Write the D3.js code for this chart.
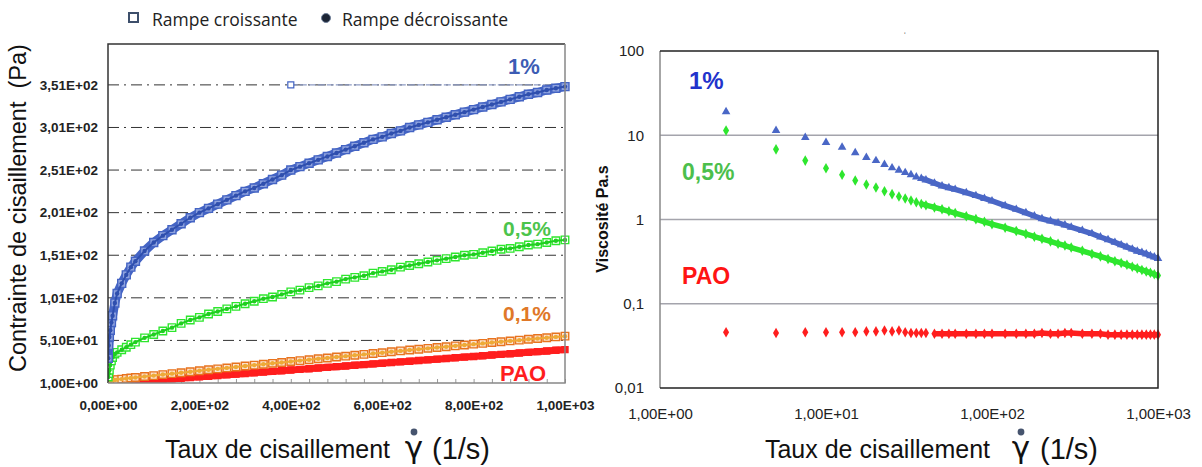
<!DOCTYPE html>
<html>
<head>
<meta charset="utf-8">
<script src="https://cdn.jsdelivr.net/npm/d3@7"></script>
<style>
  body { margin: 0; background: #fff; }
  svg { display: block; }
  .tickL text { font-family: "Liberation Sans Narrow", "Arial Narrow", sans-serif; font-weight: bold; font-size: 13.5px; fill: #222; }
  .tickR text { font-family: "Liberation Sans", Arial, sans-serif; font-size: 15px; fill: #222; }
  .title { font-family: "Liberation Sans", Arial, sans-serif; fill: #111; }
  .note { font-family: "Liberation Sans", Arial, sans-serif; font-weight: bold; }
</style>
</head>
<body>
<script>
// ---- left panel: shear stress vs shear rate (linear) ----
const rateL = [0.5, 1.5, 3, 5, 7.5, 10, 15, 20, 30, 40, 50, 60, 80,
  100, 120, 140, 160, 180, 200, 220, 240, 260, 280, 300, 320, 340, 360, 380, 400,
  420, 440, 460, 480, 500, 520, 540, 560, 580, 600, 620, 640, 660, 680, 700,
  720, 740, 760, 780, 800, 820, 840, 860, 880, 900, 920, 940, 960, 980, 1000];

const stress1 = [30, 45, 55, 63, 72, 80, 95, 106, 118, 128, 137, 144, 156,
  166, 174, 181, 188, 195, 201, 206, 211, 216, 221, 226, 230, 235, 240, 245, 251,
  255, 259, 263, 267, 271, 275, 279, 283, 287, 290, 294, 297, 301, 304, 307,
  310, 313, 316, 319, 322, 325, 328, 331, 334, 337, 340, 342, 345, 347, 349];

const stress05 = [8, 12, 16, 22, 27, 31, 35, 37, 40, 43, 46, 49, 54,
  58, 62, 66, 71, 75, 78, 82, 85, 88, 91, 94, 97, 100, 102, 105, 108,
  110, 113, 115, 118, 120, 123, 125, 127, 130, 132, 134, 137, 139, 141, 143,
  145, 147, 149, 151, 152, 154, 156, 158, 159, 161, 163, 164, 166, 168, 169];

const stress01 = [3, 3.2, 3.4, 3.6, 3.9, 4.2, 4.6, 5, 5.6, 6.3, 6.9, 7.5, 8.6,
  9.7, 10.9, 12, 13.1, 14.2, 15.4, 16.5, 17.6, 18.7, 19.8, 20.9, 22, 23, 24.1, 25.1, 26.2,
  27.3, 28.3, 29.4, 30.4, 31.5, 32.5, 33.6, 34.6, 35.6, 36.6, 37.7, 38.7, 39.7, 40.7, 41.7,
  42.6, 43.6, 44.6, 45.6, 46.6, 47.5, 48.5, 49.4, 50.4, 51.3, 52.3, 53.2, 54.1, 55.1, 56];

const stressPAO = [0.2, 0.25, 0.3, 0.4, 0.5, 0.6, 0.8, 1, 1.4, 1.8, 2.2, 2.6, 3.4,
  4.2, 5, 5.8, 6.6, 7.4, 8.2, 9, 9.8, 10.6, 11.4, 12.2, 13, 13.8, 14.6, 15.4, 16.2,
  17, 17.8, 18.6, 19.4, 20.2, 21, 21.8, 22.6, 23.4, 24.2, 25, 25.8, 26.6, 27.4, 28.2,
  29, 29.8, 30.6, 31.4, 32.2, 33, 33.8, 34.6, 35.4, 36.2, 37, 37.8, 38.6, 39.4, 40.2];

// stray point of the 1% ramp sitting on the top gridline
const outlierRate = [400, 1000];
const outlierStress = [351, 351];

const ticksXL = [0, 200, 400, 600, 800, 1000];
const ticksYL = [1, 51, 101, 151, 201, 251, 301, 351];

// ---- right panel: viscosity vs shear rate (log-log) ----
const rateR = [2.5, 5, 7.5, 10, 12.5, 15, 17.5, 20, 22.5, 25, 27.5, 30, 32.5, 35, 37.5, 40,
  45, 50, 55, 60, 70, 80, 90, 100, 120, 140, 160, 180, 200, 225, 250, 275, 300,
  350, 400, 450, 500, 550, 600, 650, 700, 750, 800, 850, 900, 950, 1000];

const visc1 = [19, 11.4, 9.4, 8.2, 7.2, 6.2, 5.45, 5.0, 4.5, 4.1, 3.85, 3.6, 3.4, 3.2, 3.07, 2.95,
  2.7, 2.5, 2.38, 2.28, 2.08, 1.92, 1.78, 1.66, 1.46, 1.32, 1.2, 1.1, 1.02, 0.96, 0.91, 0.86, 0.81,
  0.74, 0.68, 0.62, 0.575, 0.535, 0.5, 0.47, 0.445, 0.42, 0.405, 0.39, 0.372, 0.358, 0.345];

const visc05 = [11.4, 6.8, 5.0, 4.07, 3.4, 2.9, 2.6, 2.4, 2.17, 2.0, 1.88, 1.78, 1.68, 1.6, 1.53, 1.48,
  1.39, 1.32, 1.25, 1.19, 1.09, 1.01, 0.94, 0.88, 0.8, 0.73, 0.675, 0.625, 0.59, 0.55, 0.515, 0.49, 0.465,
  0.425, 0.39, 0.365, 0.34, 0.32, 0.305, 0.29, 0.275, 0.263, 0.252, 0.242, 0.233, 0.224, 0.216];

const viscPAO = [0.046, 0.045, 0.046, 0.046, 0.046, 0.046, 0.047, 0.047, 0.048, 0.047, 0.048, 0.046, 0.045, 0.045, 0.045, 0.045,
  0.044, 0.044, 0.044, 0.044, 0.044, 0.044, 0.044, 0.044, 0.044, 0.044, 0.044, 0.044, 0.045, 0.044, 0.044, 0.045, 0.045,
  0.044, 0.044, 0.044, 0.043, 0.043, 0.043, 0.043, 0.043, 0.043, 0.043, 0.043, 0.043, 0.043, 0.043];

const ticksXR = [1, 10, 100, 1000];
const ticksYR = [0.01, 0.1, 1, 10, 100];
const gridYR = [0.1, 1, 10];

const legendLabels = ['Rampe croissante', 'Rampe décroissante'];

const col = {
  blue: '#4464c4', blueDark: '#2f4fae',
  green: '#2ee62e', greenDark: '#1fcf1f',
  orange: '#e8731e', gold: '#eeaa38',
  red: '#ff1e1e'
};

// "2.00e+2" -> "2,00E+02"
const sci = (d) => {
  return d.toExponential(2).replace('.', ',').replace(/e([+-])(\d)$/, 'E$10$2');
};

const svg = d3.select('body').append('svg')
    .attr('width', 1202)
    .attr('height', 467);

// ================= LEFT =================
const xL = d3.scaleLinear().domain([0, 1000]).range([108, 565]);
const yL = d3.scaleLinear().domain([1, 399]).range([383, 44]);

svg.append('clipPath').attr('id', 'clipL')
  .append('rect')
    .attr('x', xL(0)).attr('y', yL(399))
    .attr('width', xL(1000) - xL(0) + 5).attr('height', yL(1) - yL(399));

// dash-dot gridlines
svg.append('g')
  .selectAll('line')
    .data(ticksYL.slice(1))
  .enter().append('line')
    .attr('x1', xL(0)).attr('x2', xL(1000))
    .attr('y1', (d) => yL(d)).attr('y2', (d) => yL(d))
    .attr('stroke', '#333')
    .attr('stroke-width', 1)
    .attr('stroke-dasharray', '11,5,2,5');

// bottom axis labels + minor ticks
svg.append('g')
    .attr('class', 'tickL')
    .attr('transform', `translate(0,${ yL(1) })`)
    .call(d3.axisBottom(xL).tickValues(ticksXL).tickSize(0).tickPadding(17).tickFormat(sci))
    .call((g) => g.select('.domain').remove());

svg.append('g')
    .attr('transform', `translate(0,${ yL(1) })`)
    .call(d3.axisTop(xL).tickValues(d3.range(0, 1001, 40)).tickSize(4).tickFormat(''))
    .call((g) => g.select('.domain').remove())
    .call((g) => g.selectAll('line').attr('stroke', '#999'));

svg.append('g')
    .attr('class', 'tickL')
    .attr('transform', `translate(${ xL(0) },0)`)
    .call(d3.axisLeft(yL).tickValues(ticksYL).tickSize(0).tickPadding(10).tickFormat(sci))
    .call((g) => g.select('.domain').remove());

const plotL = svg.append('g').attr('clip-path', 'url(#clipL)');

const ptsL = (vals) => rateL.map((r, i) => [r, vals[i]]);
const lineL = d3.line()
    .x((d) => xL(d[0]))
    .y((d) => yL(d[1]));

// faint link from the stray point to the end of the 1% ramp
plotL.append('path')
    .datum(outlierRate.map((r, i) => [r, outlierStress[i]]))
    .attr('d', lineL)
    .attr('fill', 'none')
    .attr('stroke', '#8d9bc4')
    .attr('stroke-width', 1.2)
    .attr('stroke-dasharray', '7,2');

const seriesL = [
  {vals: stressPAO, c: col.red, dec: col.red, band: 7, fill: col.red, size: 36},
  {vals: stress01, c: col.orange, dec: col.gold, band: 0, fill: '#fbe3cf', size: 56},
  {vals: stress05, c: col.green, dec: col.greenDark, band: 0, fill: '#fff', size: 56},
  {vals: stress1, c: col.blue, dec: col.blueDark, band: 9, fill: '#8ea2de', size: 64}
];

seriesL.forEach((s) => {
  const pts = ptsL(s.vals);
  if (s.band) {
    plotL.append('path')
        .datum(pts)
        .attr('d', lineL)
        .attr('fill', 'none')
        .attr('stroke', s.c)
        .attr('stroke-width', s.band);
  }
  // rampe croissante: squares
  plotL.append('g')
    .selectAll('path')
      .data(pts)
    .enter().append('path')
      .attr('transform', (d) => `translate(${ xL(d[0]) },${ yL(d[1]) })`)
      .attr('d', d3.symbol(d3.symbolSquare, s.size))
      .attr('fill', s.fill)
      .attr('stroke', s.c)
      .attr('stroke-width', 1.4);
  // rampe décroissante: small dots
  plotL.append('path')
      .datum(pts)
      .attr('d', lineL)
      .attr('fill', 'none')
      .attr('stroke', s.dec)
      .attr('stroke-width', 2);
  plotL.append('g')
    .selectAll('circle')
      .data(pts)
    .enter().append('circle')
      .attr('cx', (d) => xL(d[0]))
      .attr('cy', (d) => yL(d[1]))
      .attr('r', 2.2)
      .attr('fill', s.dec);
});

plotL.append('g')
  .selectAll('path')
    .data(outlierRate.slice(0, 1).map((r, i) => [r, outlierStress[i]]))
  .enter().append('path')
    .attr('transform', (d) => `translate(${ xL(d[0]) },${ yL(d[1]) })`)
    .attr('d', d3.symbol(d3.symbolSquare, 36))
    .attr('fill', '#fff')
    .attr('stroke', col.blue)
    .attr('stroke-width', 1.2);

// frame
svg.append('path')
    .attr('d', `M${ xL(0) },${ yL(1) }V${ yL(399) }H${ xL(1000) }`)
    .attr('fill', 'none').attr('stroke', '#333').attr('stroke-width', 1.5);
svg.append('path')
    .attr('d', `M${ xL(1000) },${ yL(399) }V${ yL(1) }H${ xL(0) }`)
    .attr('fill', 'none').attr('stroke', '#888').attr('stroke-width', 1.5);

// ================= RIGHT =================
const xR = d3.scaleLog().domain([1, 1000]).range([660, 1158]);
const yR = d3.scaleLog().domain([0.01, 100]).range([388, 51]);

svg.append('g')
  .selectAll('line')
    .data(gridYR)
  .enter().append('line')
    .attr('x1', xR(1)).attr('x2', xR(1000))
    .attr('y1', (d) => yR(d)).attr('y2', (d) => yR(d))
    .attr('stroke', '#a4a4ac')
    .attr('stroke-width', 1.5);

svg.append('g')
    .attr('class', 'tickR')
    .attr('transform', `translate(0,${ yR(0.01) })`)
    .call(d3.axisBottom(xR).tickValues(ticksXR).tickSize(0).tickPadding(20).tickFormat(sci))
    .call((g) => g.select('.domain').remove());

svg.append('g')
    .attr('class', 'tickR')
    .attr('transform', `translate(${ xR(1) },0)`)
    .call(d3.axisLeft(yR).tickValues(ticksYR).tickSize(0).tickPadding(16)
      .tickFormat((d) => String(d).replace('.', ',')))
    .call((g) => g.select('.domain').remove());

const ptsR = (vals) => rateR.map((r, i) => [r, vals[i]]);
const lineR = d3.line()
    .x((d) => xR(d[0]))
    .y((d) => yR(d[1]));

const seriesR = [
  {vals: viscPAO, c: col.red, sym: d3.symbolDiamond, size: 32, from: 16},
  {vals: visc05, c: col.green, sym: d3.symbolDiamond, size: 32, from: 14},
  {vals: visc1, c: '#4a67c6', sym: d3.symbolTriangle, size: 32, from: 14}
];

seriesR.forEach((s) => {
  const pts = ptsR(s.vals);
  // dense part of the ramp merges into a band
  svg.append('path')
      .datum(pts.slice(s.from))
      .attr('d', lineR)
      .attr('fill', 'none')
      .attr('stroke', s.c)
      .attr('stroke-width', 5.5);
  svg.append('g')
    .selectAll('path')
      .data(pts)
    .enter().append('path')
      .attr('transform', (d) => `translate(${ xR(d[0]) },${ yR(d[1]) })`)
      .attr('d', d3.symbol(s.sym, s.size))
      .attr('fill', s.c);
});

svg.append('path')
    .attr('d', `M${ xR(1) },${ yR(0.01) }V${ yR(100) }`)
    .attr('fill', 'none').attr('stroke', '#888').attr('stroke-width', 1.5);
svg.append('path')
    .attr('d', `M${ xR(1) },${ yR(100) }H${ xR(1000) }V${ yR(0.01) }H${ xR(1) }`)
    .attr('fill', 'none').attr('stroke', '#222').attr('stroke-width', 1.5);

// ================= TEXT =================
// legend
const legend = svg.append('g')
    .attr('font-family', '"Open Sans", sans-serif')
    .attr('font-size', 17.5)
    .attr('fill', '#222');
legend.append('rect')
    .attr('x', 129).attr('y', 13).attr('width', 9).attr('height', 9)
    .attr('fill', '#fff').attr('stroke', '#3d4f6b').attr('stroke-width', 2);
legend.append('text').attr('x', 152).attr('y', 26).text(legendLabels[0]);
legend.append('circle')
    .attr('cx', 326).attr('cy', 18).attr('r', 4.5)
    .attr('fill', '#1c2535').attr('stroke', '#6f7f99').attr('stroke-width', 1);
legend.append('text').attr('x', 342).attr('y', 26).text(legendLabels[1]);

// axis titles
const xTitle = (textEnd, gx, parenX) => {
  svg.append('text')
      .attr('class', 'title')
      .attr('x', textEnd).attr('y', 458)
      .attr('text-anchor', 'end')
      .attr('font-size', 25)
      .text('Taux de cisaillement');
  svg.append('text')
      .attr('x', gx).attr('y', 458)
      .attr('text-anchor', 'middle')
      .attr('font-family', '"DejaVu Sans", sans-serif')
      .attr('font-size', 31)
      .attr('fill', '#111')
      .text('γ');
  svg.append('circle')
      .attr('cx', gx).attr('cy', 432).attr('r', 3.4)
      .attr('fill', '#46546e');
  svg.append('text')
      .attr('class', 'title')
      .attr('x', parenX).attr('y', 459)
      .attr('font-size', 29)
      .text('(1/s)');
};
xTitle(390, 414, 432);
xTitle(990, 1021, 1040);

svg.append('text')
    .attr('class', 'title')
    .attr('transform', 'translate(26,208) rotate(-90)')
    .attr('text-anchor', 'middle')
    .attr('font-size', 23.5)
    .attr('xml:space', 'preserve')
    .text('Contrainte de cisaillement  (Pa)');

svg.append('text')
    .attr('class', 'title')
    .attr('transform', 'translate(608,219) rotate(-90)')
    .attr('text-anchor', 'middle')
    .attr('font-size', 16)
    .attr('font-weight', 'bold')
    .text('Viscosité Pa.s');

// stray mark at top of right panel
svg.append('text')
    .attr('x', 903).attr('y', 40)
    .attr('font-size', 11).attr('fill', '#555')
    .text('ˈ');

// series labels
const notes = [
  {t: '1%', x: 508, y: 74, c: '#3c5cb4', s: 22},
  {t: '0,5%', x: 503, y: 236, c: '#4cc44c', s: 21},
  {t: '0,1%', x: 503, y: 321, c: '#e07828', s: 21},
  {t: 'PAO', x: 500, y: 381, c: '#ff1e1e', s: 22},
  {t: '1%', x: 689, y: 89, c: '#2233cc', s: 24},
  {t: '0,5%', x: 682, y: 180, c: '#4cbf4c', s: 23},
  {t: 'PAO', x: 682, y: 284, c: '#ff1414', s: 23}
];
svg.append('g')
  .selectAll('text')
    .data(notes)
  .enter().append('text')
    .attr('class', 'note')
    .attr('x', (d) => d.x)
    .attr('y', (d) => d.y)
    .attr('font-size', (d) => d.s)
    .attr('fill', (d) => d.c)
    .text((d) => d.t);
</script>
</body>
</html>
